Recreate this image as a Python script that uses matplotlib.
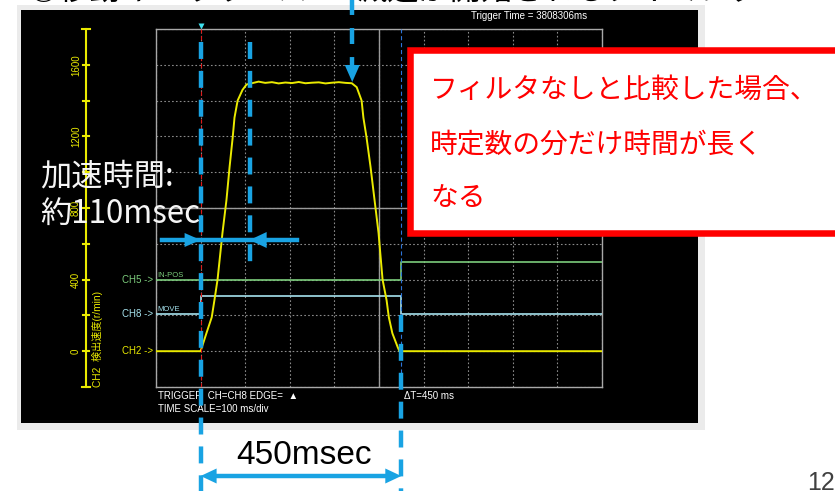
import numpy as np
import matplotlib
matplotlib.use('Agg')
import matplotlib.pyplot as plt
from matplotlib import font_manager
from matplotlib.patches import Rectangle, Polygon

plt.rcParams['lines.scale_dashes'] = False

W, H = 835, 491

# CH2 detected speed (r/min) against time from the trigger (ms)
time_ms = [-100, 0, 13, 25, 31, 38, 49, 58, 65, 72, 76, 83, 94, 103,
           115, 130, 145, 160, 175, 190, 205, 220, 235, 250, 265, 280, 295, 310, 325, 339,
           350, 361, 365, 372, 381, 390, 399, 408, 417, 422, 430, 442, 446, 900]
speed_rpm = [0, 0, 100, 190, 285, 400, 660, 845, 1030, 1195, 1305, 1400, 1460, 1490,
             1497, 1506, 1499, 1503, 1496, 1501, 1498, 1504, 1497, 1500, 1502, 1496, 1500, 1503, 1499, 1497,
             1475, 1400, 1305, 1195, 1030, 845, 660, 400, 285, 190, 100, 22, 0, 0]

# digital channels (drawn at fixed offsets on the speed scale)
inpos_t = [-100, 450, 450, 900]
inpos_lv = [400, 400, 500, 500]
move_t = [-100, 0, 0, 450, 450, 900]
move_lv = [210, 210, 310, 310, 210, 210]

speed_ticks = [0, 400, 800, 1200, 1600]
channel_labels = ['CH5 ->', 'CH8 ->', 'CH2 ->']
channel_levels = [400, 210, 0]

t_trigger = 0
t_accel_end = 110
t_decel_start = 340
t_delta = 450

note_lines = ['フィルタなしと比較した場合、', '時定数の分だけ時間が長く', 'なる']

YEL = '#eaea00'
GRN = '#7ccd7c'
CYN = '#a6e3ee'
BLUE = '#19a3e3'
RED = '#ff0000'

_names = {f.name for f in font_manager.fontManager.ttflist}
if 'Liberation Sans Narrow' in _names:
    scope_font, scope_fs = 'Liberation Sans Narrow', 8.2
else:
    scope_font, scope_fs = 'Liberation Sans', 7
JP = 'Noto Sans CJK JP'

fig = plt.figure(figsize=(W / 100, H / 100), dpi=100, facecolor='white')

# pixel-space layers below and above the scope trace
bg = fig.add_axes([0, 0, 1, 1], zorder=0)
bg.set_xlim(0, W); bg.set_ylim(H, 0); bg.axis('off')

ax = fig.add_axes([156 / W, 1 - 387 / H, 446 / W, 358 / H], zorder=1)
ax.set_facecolor('black')
ax.set_xlim(-100, 900)
ax.set_ylim(-200, 1800)

ov = fig.add_axes([0, 0, 1, 1], zorder=2)
ov.set_xlim(0, W); ov.set_ylim(H, 0); ov.axis('off')


def tx(t):
    return ax.transData.transform((t, 0))[0]


def vy(v):
    return H - ax.transData.transform((0, v))[1]


# scope screen
bg.add_patch(Rectangle((17, 5), 688, 425, facecolor='#ebebeb', edgecolor='none', zorder=1))
bg.add_patch(Rectangle((21, 10), 677, 413, facecolor='black', edgecolor='none', zorder=2))

ax.set_xticks(np.arange(-100, 901, 100))
ax.set_yticks(np.arange(-200, 1801, 200))
ax.tick_params(length=0, labelbottom=False, labelleft=False)
ax.grid(True, color='#8a8a8a', linestyle=(0, (1.2, 1.6)), linewidth=0.8)
ax.set_axisbelow(True)
ax.axvline(400, color='#9a9a9a', lw=1, zorder=1)
ax.axhline(800, color='#9a9a9a', lw=1, zorder=1)
for s in ax.spines.values():
    s.set_color('#a8a8a8')
    s.set_linewidth(1)

ax.plot(inpos_t, inpos_lv, color=GRN, lw=1.2, zorder=3)
ax.plot(move_t, move_lv, color=CYN, lw=1.2, zorder=3)
ax.plot(time_ms, speed_rpm, color=YEL, lw=1.4, zorder=4)
ax.axvline(t_trigger, color='#e01818', lw=0.8, linestyle=(0, (3, 2)), zorder=5)
ax.axvline(t_delta, color='#2d74d8', lw=0.8, linestyle=(0, (3, 2)), zorder=5)
ax.annotate('IN-POS', (-100, inpos_lv[0]), xytext=(1, 0.5), textcoords='offset points',
            fontsize=5.5, color=GRN, va='bottom', family=scope_font)
ax.annotate('MOVE', (-100, move_lv[0]), xytext=(1, 0.5), textcoords='offset points',
            fontsize=5.5, color=CYN, va='bottom', family=scope_font)

# yellow speed axis on the left
bg.plot([86, 86], [vy(1800), vy(-200)], color=YEL, lw=1.5, zorder=3)
for v in np.arange(-200, 1801, 200):
    w = 4 if v in (-200, 1800) else 3
    bg.plot([86 - w, 86 + w], [vy(v), vy(v)], color=YEL, lw=1.5, zorder=3)
for v in speed_ticks:
    bg.text(76, vy(v), str(v), rotation=90, ha='center', va='center', color=YEL,
            fontsize=scope_fs, family=scope_font, zorder=3)
bg.text(97, vy(-200), 'CH2  検出速度(r/min)', rotation=90, ha='center', va='bottom',
        color=YEL, fontsize=7.3, family=[scope_font, JP], zorder=3)

for lab, lv, c in zip(channel_labels, channel_levels, [GRN, CYN, YEL]):
    bg.text(153, vy(lv), lab, ha='right', va='center', color=c,
            fontsize=scope_fs, family=scope_font, zorder=3)

bg.plot(tx(t_trigger), 26, marker='v', ms=5, color='#3ee0ee', mec='none', zorder=3)
bg.text(529, 16, 'Trigger Time = 3808306ms', ha='center', va='center', color='white',
        fontsize=scope_fs, family=scope_font, zorder=3)
bg.text(158, 396, 'TRIGGER  CH=CH8 EDGE=  ▲', ha='left', va='center', color='white',
        fontsize=scope_fs, family=[scope_font, 'DejaVu Sans'], zorder=3)
bg.text(158, 409, 'TIME SCALE=100 ms/div', ha='left', va='center', color='white',
        fontsize=scope_fs, family=scope_font, zorder=3)
bg.text(tx(t_delta) + 3, 396, 'ΔT=450 ms', ha='left', va='center', color='white',
        fontsize=scope_fs, family=[scope_font, 'DejaVu Sans'], zorder=3)


# callouts drawn over the screen
def dashed(x, y0, y1, on=12.2, off=8.6):
    ov.plot([x, x], [y0, y1], color=BLUE, lw=3.2, linestyle=(0, (on, off)),
            dash_capstyle='butt', zorder=5)


def head(xt, yt, dx, dy, length, half):
    bx, by = xt - dx * length, yt - dy * length
    pts = [(xt, yt), (bx - dy * half, by + dx * half), (bx + dy * half, by - dx * half)]
    ov.add_patch(Polygon(pts, closed=True, facecolor=BLUE, edgecolor='none', zorder=6))


dashed(tx(t_trigger), 42, 500)
dashed(tx(t_accel_end), 42, 263)
dashed(tx(t_decel_start), -11, 66, on=11.5, off=9.4)
head(tx(t_decel_start), 82, 0, 1, 17, 7.5)
dashed(tx(t_delta), 315, 500)

ov.plot([tx(t_trigger) - 39, tx(t_accel_end) + 47], [240, 240], color=BLUE, lw=3.2, zorder=5)
head(tx(t_trigger), 240, 1, 0, 16, 7)
head(tx(t_accel_end), 240, -1, 0, 17, 8)

ov.plot([tx(t_trigger) + 8, tx(t_delta) - 8], [476, 476], color=BLUE, lw=3.2, zorder=5)
head(tx(t_trigger), 476, -1, 0, 16, 7.5)
head(tx(t_delta), 476, 1, 0, 16, 7.5)
ov.text((tx(t_trigger) + tx(t_delta)) / 2 + 3, 455, '450msec', ha='center', va='center',
        fontsize=24, family='Liberation Sans', color='black', zorder=6)

ov.text(40, 177, '加速時間:', ha='left', va='center', fontsize=22.5, family=JP,
        color='#f5f5f5', zorder=7)
ov.text(40, 214, '約110msec', ha='left', va='center', fontsize=22.5, family=JP,
        color='#f5f5f5', zorder=7)

ov.add_patch(Rectangle((409.5, 50), 460, 183, facecolor='white', edgecolor=RED,
                       lw=4.7, zorder=6))
for i, line in enumerate(note_lines):
    ov.text(430, 90 + 54 * i, line, ha='left', va='center', fontsize=20, family=JP,
            color=RED, zorder=7)

# slide heading and page number, cut by the page edges
ov.text(27, 0, '○移動キーリリース', ha='left', va='baseline', fontsize=22.5, family=JP,
        color='black', zorder=7)
ov.text(357, 0, '減速が開始されるタイミング', ha='left', va='baseline', fontsize=22.5,
        family=JP, color='black', zorder=7)
ov.text(807, 483, '12', ha='left', va='center', fontsize=18, family='Liberation Sans',
        color='#404040', zorder=7)

fig.savefig('out.png', dpi=100, facecolor='white')
